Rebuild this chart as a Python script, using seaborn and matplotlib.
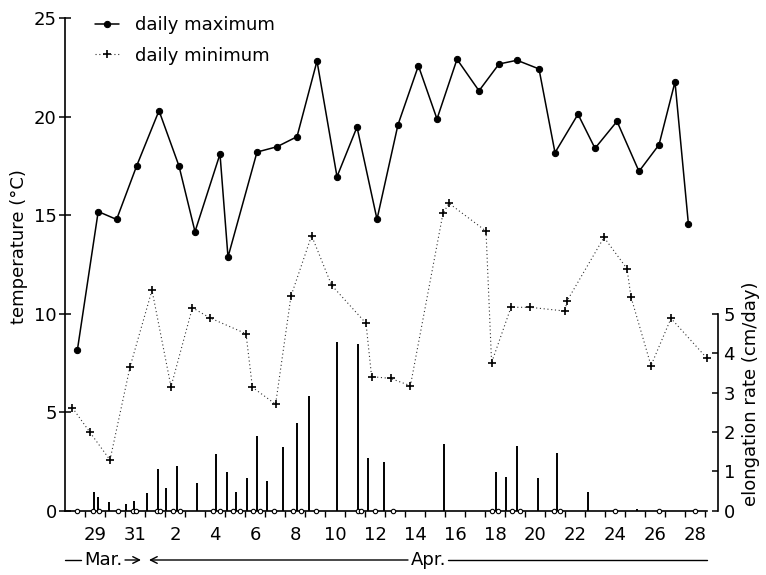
import numpy as np
import pandas as pd
import matplotlib
matplotlib.use("Agg")
import matplotlib.pyplot as plt
import seaborn as sns

# x = days after the "29 Mar." label centre (fractional)
max_day = [-0.88, 0.16, 1.08, 2.08, 3.2, 4.2, 5.0, 6.25, 6.65, 8.1, 9.1, 10.1,
           11.1, 12.1, 13.1, 14.1, 15.15, 16.17, 17.1, 18.1, 19.2, 20.2, 21.1,
           22.2, 23.0, 24.15, 25.0, 26.1, 27.2, 28.2, 29.0, 29.67]
max_temp = [8.17, 15.19, 14.79, 17.5, 20.31, 17.5, 14.17, 18.11, 12.88, 18.21,
            18.48, 18.99, 22.83, 16.96, 19.48, 14.8, 19.6, 22.59, 19.89, 22.92,
            21.32, 22.68, 22.87, 22.43, 18.18, 20.13, 18.4, 19.77, 17.23, 18.58,
            21.77, 14.56]

min_day = [-1.13, -0.25, 0.75, 1.75, 2.85, 3.8, 4.87, 5.75, 7.55, 7.87, 9.03,
           9.8, 10.83, 11.83, 13.55, 13.83, 14.78, 15.77, 17.4, 17.7, 19.55,
           19.83, 20.8, 21.75, 23.5, 23.6, 25.45, 26.6, 26.8, 27.8, 28.8, 30.6]
min_temp = [5.23, 3.98, 2.58, 7.3, 11.2, 6.3, 10.31, 9.79, 8.99, 6.27, 5.41,
            10.9, 13.97, 11.45, 9.52, 6.81, 6.72, 6.35, 15.1, 15.61, 14.2, 7.52,
            10.33, 10.33, 10.14, 10.65, 13.88, 12.29, 10.85, 7.37, 9.77, 7.74]

rate_day = [-0.05, 0.135, 0.7, 1.535, 1.965, 2.585, 3.135, 3.55, 4.085, 5.115,
            6.065, 6.6, 7.05, 7.6, 8.115, 8.585, 9.4, 10.1, 10.715, 12.085,
            13.165, 13.635, 14.465, 17.45, 20.035, 20.55, 21.085, 22.165,
            23.115, 24.635, 27.115]
rate_val = [0.47, 0.34, 0.23, 0.16, 0.26, 0.44, 1.05, 0.57, 1.14, 0.71, 1.45,
            0.98, 0.47, 0.84, 1.90, 0.76, 1.61, 2.22, 2.91, 4.29, 4.23, 1.35,
            1.25, 1.69, 0.98, 0.87, 1.64, 0.82, 1.46, 0.47, 0.04]

zero_day = [-0.885, -0.1, 0.215, 1.135, 1.885, 2.05, 3.085, 3.25, 3.885, 4.25,
            5.915, 6.235, 6.915, 7.25, 7.915, 8.25, 8.95, 9.9, 10.3, 11.035,
            13.135, 13.3, 13.985, 14.9, 19.865, 20.165, 20.865, 21.25, 22.95,
            23.25, 26.015, 28.2, 30.0]

tick_pos = list(range(0, 31, 2))
tick_labels = ["29", "31", "2", "4", "6", "8", "10", "12", "14", "16", "18",
               "20", "22", "24", "26", "28"]
temp_ticks = [0, 5, 10, 15, 20, 25]
rate_ticks = [0, 1, 2, 3, 4, 5]

sns.set_theme(style="ticks")
plt.rcParams['font.family'] = ['DejaVu Sans']
plt.rcParams['text.color'] = 'black'
FS = 13

W, H = 766, 575
fig = plt.figure(figsize=(W / 100, H / 100), dpi=100)
x0, x1, yb, yt = 65, 718, 510.8, 18.3
ax = fig.add_axes([x0 / W, 1 - yb / H, (x1 - x0) / W, (yb - yt) / H])
ax.set_xlim(-1.5, 31.15)
ax.set_ylim(0, 25)
ax2 = ax.twinx()
ax2.set_ylim(0, 12.5)

df_max = pd.DataFrame({"day": max_day, "temp": max_temp})
df_min = pd.DataFrame({"day": min_day, "temp": min_temp})

sns.lineplot(data=df_max, x="day", y="temp", ax=ax, color="black", lw=1.1,
             marker="o", markersize=4.5, markeredgecolor="black",
             markerfacecolor="black", label="daily maximum", estimator=None,
             sort=False)
sns.lineplot(data=df_min, x="day", y="temp", ax=ax, color="#333333", lw=0.8,
             linestyle=(0, (1, 2.4)), marker="+", markersize=6,
             markeredgewidth=1.2, markeredgecolor="black",
             label="daily minimum", estimator=None, sort=False)

ax2.vlines(rate_day, 0, rate_val, color="black", lw=1.4)
sns.scatterplot(x=zero_day, y=[0] * len(zero_day), ax=ax2, marker="o", s=10,
                facecolor="white", edgecolor="black", linewidth=0.8,
                zorder=6, clip_on=False)

# spines
for s in ["top", "right"]:
    ax.spines[s].set_visible(False)
for s in ["top", "left", "bottom"]:
    ax2.spines[s].set_visible(False)
ax.spines["bottom"].set_bounds(-1.5, 30.6)
ax2.spines["right"].set_bounds(0, 5)
for sp in [ax.spines["left"], ax.spines["bottom"], ax2.spines["right"]]:
    sp.set_linewidth(1.2)
    sp.set_color("black")

ax.set_yticks(temp_ticks)
ax.tick_params(axis="y", direction="inout", length=8, width=1.1, pad=2,
               labelsize=FS, colors="black")
ax.set_xticks(tick_pos)
ax.set_xticklabels(tick_labels)
ax.set_xticks(np.arange(-0.5, 30.6, 1), minor=True)
ax.tick_params(axis="x", which="major", length=0, pad=11, labelsize=FS,
               colors="black")
ax.tick_params(axis="x", which="minor", direction="out", length=4, width=1.0,
               colors="black")
ax2.set_yticks(rate_ticks)
ax2.tick_params(axis="y", direction="in", length=4, width=1.1, pad=4,
                labelsize=FS, colors="black")
ax.set_xlabel("")
ax.set_ylabel("")
ax2.set_ylabel("")

fig.text(19 / W, 1 - 247 / H, "temperature (°C)", rotation=90, ha="center",
         va="center", fontsize=FS, color="black")
fig.text(751 / W, 1 - 394 / H, "elongation rate (cm/day)", rotation=90,
         ha="center", va="center", fontsize=FS, color="black")

# month annotations under the axis
tr = ax.get_xaxis_transform()
ym = (yb - 560) / (yb - yt)
ax.plot([-1.5, -0.72], [ym, ym], transform=tr, color="black", lw=1.0,
        clip_on=False)
ax.text(0.43, ym, "Mar.", transform=tr, ha="center", va="center",
        fontsize=FS, color="black")
ax.annotate("", xy=(2.3, ym), xytext=(1.5, ym), xycoords=tr, textcoords=tr,
            arrowprops=dict(arrowstyle="->", lw=1.0, color="black",
                            shrinkA=0, shrinkB=0))
ax.annotate("", xy=(2.7, ym), xytext=(15.65, ym), xycoords=tr, textcoords=tr,
            arrowprops=dict(arrowstyle="->", lw=1.0, color="black",
                            shrinkA=0, shrinkB=0))
ax.text(16.7, ym, "Apr.", transform=tr, ha="center", va="center",
        fontsize=FS, color="black")
ax.plot([17.65, 30.6], [ym, ym], transform=tr, color="black", lw=1.0,
        clip_on=False)

handles, labels = ax.get_legend_handles_labels()
leg = ax.legend(handles, labels, loc="upper left", bbox_to_anchor=(0.046, 1.004),
                frameon=False, fontsize=FS, handlelength=1.3, handletextpad=0.9,
                labelspacing=0.68, borderpad=0, borderaxespad=0)
for t in leg.get_texts():
    t.set_color("black")

fig.savefig("out.png", dpi=100)
